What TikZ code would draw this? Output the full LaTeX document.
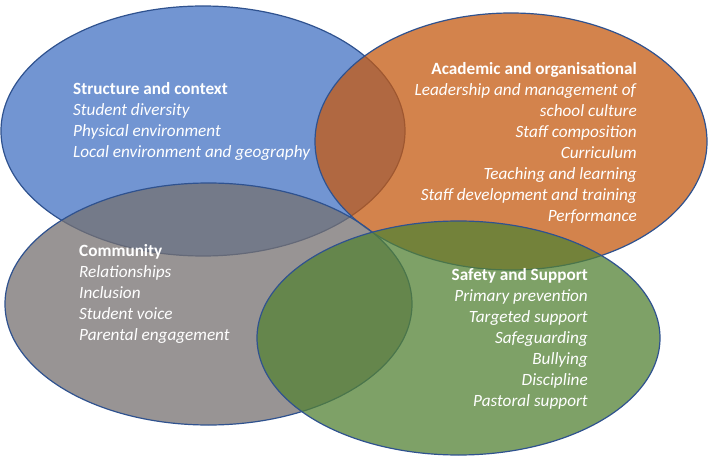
\documentclass[tikz,border=0pt]{standalone}
\usepackage{fontspec}
\setmainfont{Carlito}
\usetikzlibrary{shapes.geometric}
\definecolor{cblue}{HTML}{4472C4}
\definecolor{corange}{HTML}{C55A11}
\definecolor{cgray}{HTML}{767171}
\definecolor{cgreen}{HTML}{548235}
\definecolor{cline}{HTML}{2F528F}
\tikzset{
  setbubble/.style={ellipse, draw=cline, line width=1.2pt, fill opacity=0.75, inner sep=0pt},
  setlabel/.style={text=white, inner sep=0pt, font=\fontsize{17.2}{21}\selectfont}
}
\begin{document}
\begin{tikzpicture}[x=1pt,y=-1pt]
\fill[white] (0,0) rectangle (712,457);
\useasboundingbox (0,0) rectangle (712,457);
\node[setbubble, fill=cblue, minimum width=404pt, minimum height=250pt] (blue) at (203,131) {};
\node[setbubble, fill=corange, minimum width=392pt, minimum height=257pt] (orange) at (511,141.5) {};
\node[setbubble, fill=cgray, minimum width=407pt, minimum height=242pt] (gray) at (208.5,304) {};
\node[setbubble, fill=cgreen, minimum width=403pt, minimum height=234pt] (green) at (458.5,338) {};
\node[setlabel, anchor=base west] (tblue) at (73,95) {\begin{tabular}[t]{@{}l@{}}\textbf{Structure and context}\\ \textit{Student diversity}\\ \textit{Physical environment}\\ \textit{Local environment and geography}\end{tabular}};
\node[setlabel, anchor=base east] (torange) at (637,75) {\begin{tabular}[t]{@{}r@{}}\textbf{Academic and organisational}\\ \textit{Leadership and management of}\\ \textit{school culture}\\ \textit{Staff composition}\\ \textit{Curriculum}\\ \textit{Teaching and learning}\\ \textit{Staff development and training}\\ \textit{Performance}\end{tabular}};
\node[setlabel, anchor=base west] (tgray) at (79,256) {\begin{tabular}[t]{@{}l@{}}\textbf{Community}\\ \textit{Relationships}\\ \textit{Inclusion}\\ \textit{Student voice}\\ \textit{Parental engagement}\end{tabular}};
\node[setlabel, anchor=base east] (tgreen) at (588,280) {\begin{tabular}[t]{@{}r@{}}\textbf{Safety and Support}\\ \textit{Primary prevention}\\ \textit{Targeted support}\\ \textit{Safeguarding}\\ \textit{Bullying}\\ \textit{Discipline}\\ \textit{Pastoral support}\end{tabular}};
\end{tikzpicture}
\end{document}
